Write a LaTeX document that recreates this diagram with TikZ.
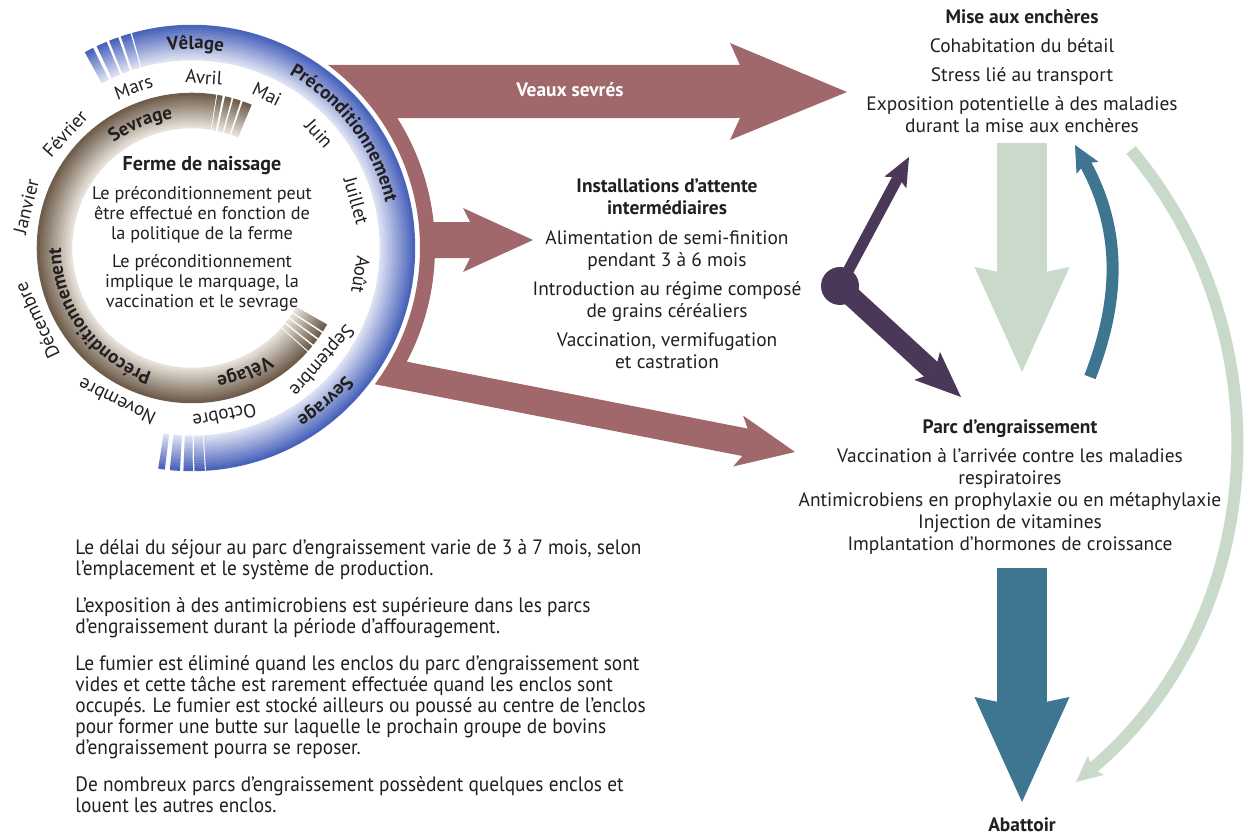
\documentclass[tikz,border=0pt]{standalone}
\usepackage{fontspec}
\setmainfont{PT Sans}
\newfontfamily\narrowfont[FakeStretch=0.93]{PT Sans}
\usetikzlibrary{arrows.meta,calc,decorations.text}

\definecolor{ink}{HTML}{231F20}
\definecolor{ringblue}{HTML}{4A64BC}
\definecolor{ringbluein}{HTML}{DCE0F2}
\definecolor{ringbrown}{HTML}{6F5E4C}
\definecolor{ringbrownin}{HTML}{E6E0D8}
\definecolor{mauve}{HTML}{A1686C}
\definecolor{plum}{HTML}{4B3757}
\definecolor{sage}{HTML}{C9D9CA}
\definecolor{petrol}{HTML}{3E7591}

% inner r, outer r, from, to, inner colour, outer colour
\newcommand\shadedarc[6]{%
	\foreach \k in {0,...,13}{%
		\pgfmathsetmacro\rr{#1+(#2-#1)*(\k+0.5)/14}%
		\pgfmathtruncatemacro\pc{100*\k/13}%
		\pgfmathsetmacro\lw{(#2-#1)/14*0.5+0.25}%
		\draw[#6!\pc!#5, line width=\lw pt] ($(O)+(#3:\rr)$) arc[start angle=#3, end angle=#4, radius=\rr];
	}}

\begin{document}
\begin{tikzpicture}[x=0.5pt, y=0.5pt,
	every node/.style={text=ink, inner sep=0pt},
	txt/.style={font=\fontsize{9.7}{11}\selectfont, align=center},
	month/.style={font=\fontsize{9.5}{11}\selectfont},
	ringtext/.style={decorate, decoration={text along path, text align=center,
		text={|\fontsize{9.5}{11}\bfseries\color{ink}|#1}}},
	fatdown/.style={line width=25pt, -{Stealth[length=52.5pt, width=47.5pt, inset=5pt, line width=0pt]}},
	thinarc/.style={line width=6pt, -{Stealth[length=13pt, width=12.5pt, inset=2.5pt, line width=0pt]}}]
	\useasboundingbox[fill=white] (0,0) rectangle (1248,837);
	\coordinate (O) at (192,589);

	\path[fill=mauve]
		($(O)+(53.4:228)$) -- (740,772) -- (730,794) -- (847,745) -- (730,697) -- (740,719)
		-- ($(O)+(32.3:243)$) arc[start angle=32.3, end angle=6.1, radius=243]
		-- (470,615) -- (463,629) -- (533,597) -- (463,565) -- (470,579)
		-- ($(O)+(-2.4:243)$) arc[start angle=-2.4, end angle=-27.9, radius=243]
		-- (747.7,408.4) -- (743,421.5) -- (795,385) -- (733.1,370.5) -- (742.3,381)
		-- ($(O)+(-36.7:228)$) arc[start angle=-36.7, end angle=53.4, radius=228] -- cycle;

	\shadedarc{188}{223}{-86.4}{105.6}{ringbluein}{ringblue}
	\foreach \a/\b in {106/108.6, 109.3/111.8, 112.5/115.3, 116.3/118.7,
		-89.4/-86.7, -92.2/-89.8, -95.7/-93.1, -98.7/-97}
		{\shadedarc{188}{223}{\a}{\b}{ringbluein}{ringblue}}
	\shadedarc{120}{155}{81}{318}{ringbrownin}{ringbrown}
	\foreach \a/\b in {78.6/80.6, 75.2/77.7, 71.7/74.5, 67.4/70.9,
		318.5/320.8, 321.5/323.8, 324.5/326.8, 327.5/330.5}
		{\shadedarc{120}{155}{\a}{\b}{ringbrownin}{ringbrown}}

	\path[ringtext=Vêlage] ($(O)+(119:199)$) arc[start angle=119, end angle=59, radius=199];
	\path[ringtext=Préconditionnement] ($(O)+(77:199)$) arc[start angle=77, end angle=-3, radius=199];
	\path[ringtext=Sevrage] ($(O)+(-19:199)$) arc[start angle=-19, end angle=-79, radius=199];
	\path[ringtext=Sevrage] ($(O)+(142.5:131)$) arc[start angle=142.5, end angle=82.5, radius=131];
	\path[ringtext=Préconditionnement] ($(O)+(266:131)$) arc[start angle=266, end angle=166, radius=131];
	\path[ringtext=Vêlage] ($(O)+(323:131)$) arc[start angle=323, end angle=263, radius=131];

	\foreach \m/\a [count=\i] in {Mars/110, Avril/86, Mai/64, Juin/42, Juillet/16, Août/-9,
		Septembre/-41, Octobre/-79, Novembre/-116, Décembre/-155, Janvier/166, Février/138}
		\node[month, rotate=\a-90] (mois\i) at ($(O)+(\a:171)$) {\m};

	\node[txt, font=\fontsize{9.1}{10}\selectfont, anchor=north] (ferme) at (202,681)
		{\textbf{\fontsize{10}{10}\selectfont Ferme de naissage}\\[4.5pt] Le préconditionnement peut\\ être effectué en fonction de\\
		la politique de la ferme\\[4pt] Le préconditionnement\\ implique le marquage, la\\ vaccination et le sevrage};

	\node[txt, anchor=base, text=white] (veaux) at (570,740) {\textbf{Veaux sevrés}};
	\node[txt, anchor=north] (enchere) at (1022,828)
		{\textbf{Mise aux enchères}\\[3.5pt] Cohabitation du bétail\\[3.5pt] Stress lié au transport\\[3.5pt]
		Exposition potentielle à des maladies\\ durant la mise aux enchères};
	\node[txt, anchor=north] (attente) at (667,659)
		{\textbf{Installations d’attente}\\ \textbf{intermédiaires}\\[4pt] Alimentation de semi-finition\\
		pendant 3 à 6 mois\\[3.5pt] Introduction au régime composé\\ de grains céréaliers\\[3.5pt]
		Vaccination, vermifugation\\ et castration};
	\node[txt, anchor=north] (parc) at (1010,418)
		{\textbf{Parc d’engraissement}\\[3.5pt] Vaccination à l’arrivée contre les maladies\\ respiratoires\\
		Antimicrobiens en prophylaxie ou en métaphylaxie\\ Injection de vitamines\\ Implantation d’hormones de croissance};
	\node[txt, anchor=base] (abattoir) at (1022,6) {\textbf{Abattoir}};

	\node[anchor=north west, align=left, font=\narrowfont\fontsize{10.4}{10.5}\selectfont] (notes) at (75,298)
		{Le délai du séjour au parc d’engraissement varie de 3 à 7 mois, selon\\
		l’emplacement et le système de production.\\[8pt]
		L’exposition à des antimicrobiens est supérieure dans les parcs\\
		d’engraissement durant la période d’affouragement.\\[8pt]
		Le fumier est éliminé quand les enclos du parc d’engraissement sont\\
		vides et cette tâche est rarement effectuée quand les enclos sont\\
		occupés. Le fumier est stocké ailleurs ou poussé au centre de l’enclos\\
		pour former une butte sur laquelle le prochain groupe de bovins\\
		d’engraissement pourra se reposer.\\[8pt]
		De nombreux parcs d’engraissement possèdent quelques enclos et\\
		louent les autres enclos.};

	\node[circle, fill=plum, minimum size=19pt] (hub) at (840,551) {};
	\coordinate (upTip) at (909,680);
	\coordinate (downTip) at (961,440);
	\draw[plum, line width=5.5pt, -{Stealth[length=14.5pt, width=12.5pt, inset=3pt, line width=0pt]}] (hub.center) -- (upTip);
	\draw[plum, line width=10pt, -{Stealth[length=23pt, width=19pt, inset=5pt, line width=0pt]}] (hub.center) -- (downTip);

	\coordinate (sageTop) at (1022,694);
	\coordinate (sageTip) at (1022,465);
	\draw[sage, fatdown] (sageTop) -- (sageTip);
	\coordinate (petrolTop) at (1022,269);
	\coordinate (petrolTip) at (1022,35);
	\draw[petrol, fatdown] (petrolTop) -- (petrolTip);

	\coordinate (backFrom) at (1090,460);
	\coordinate (backTo) at (1075,692);
	\draw[petrol, thinarc] (backFrom) to[bend right=25] (backTo);
	\coordinate (sideFrom) at (1131,687);
	\coordinate (sideTo) at (1076,55);
	\draw[sage, thinarc] (sideFrom) to[bend left=45] (sideTo);
\end{tikzpicture}
\end{document}
